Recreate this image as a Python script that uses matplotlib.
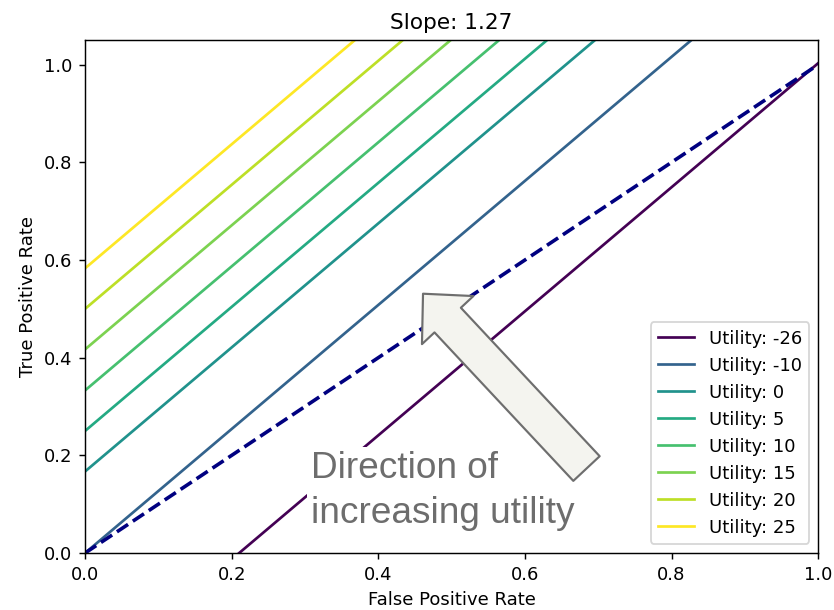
import matplotlib
matplotlib.use("Agg")
import matplotlib.pyplot as plt
import numpy as np

# Iso-utility lines in ROC space: tpr = slope * fpr + intercept
slope = 1.27
utilities = [-26, -10, 0, 5, 10, 15, 20, 25]
intercepts = [-0.267, 0.0, 0.167, 0.25, 0.333, 0.417, 0.5, 0.583]
fpr_range = [0.0, 1.0]

fig = plt.figure(figsize=(834 / 130, 610 / 130), dpi=130)
ax = fig.add_axes([0.102, 0.0934, 0.879, 0.8406])

norm = plt.Normalize(min(utilities), max(utilities))
x = np.array(fpr_range)
for u, b in zip(utilities, intercepts):
    ax.plot(x, slope * x + b, color=plt.cm.viridis(norm(u)), label=f"Utility: {u}")

# chance diagonal
ax.plot(fpr_range, fpr_range, color="navy", linestyle="--", linewidth=2)

ax.set_xlim(0, 1)
ax.set_ylim(0, 1.05)
ax.set_xlabel("False Positive Rate")
ax.set_ylabel("True Positive Rate")
ax.set_title(f"Slope: {slope}")
ax.legend(loc="lower right")

### Big arrow showing which way utility grows
ax.annotate(
    "",
    xy=(0.461, 0.531),
    xytext=(0.684, 0.173),
    arrowprops=dict(
        arrowstyle="simple,head_length=20,head_width=39,tail_width=20",
        mutation_scale=1,
        facecolor="#f4f4ef",
        edgecolor="#6e6e6e",
        linewidth=1.2,
        shrinkA=0,
        shrinkB=0,
    ),
    zorder=5,
)

ax.text(
    0.308, 0.0615,
    "Direction of\nincreasing utility",
    fontsize=20.5,
    family=["Liberation Sans", "DejaVu Sans"],
    color="#6d6d6d",
    ha="left",
    va="baseline",
    linespacing=1.38,
    bbox=dict(facecolor="white", edgecolor="none", pad=2),
    zorder=4,
)

fig.savefig("out.png", dpi=130)
